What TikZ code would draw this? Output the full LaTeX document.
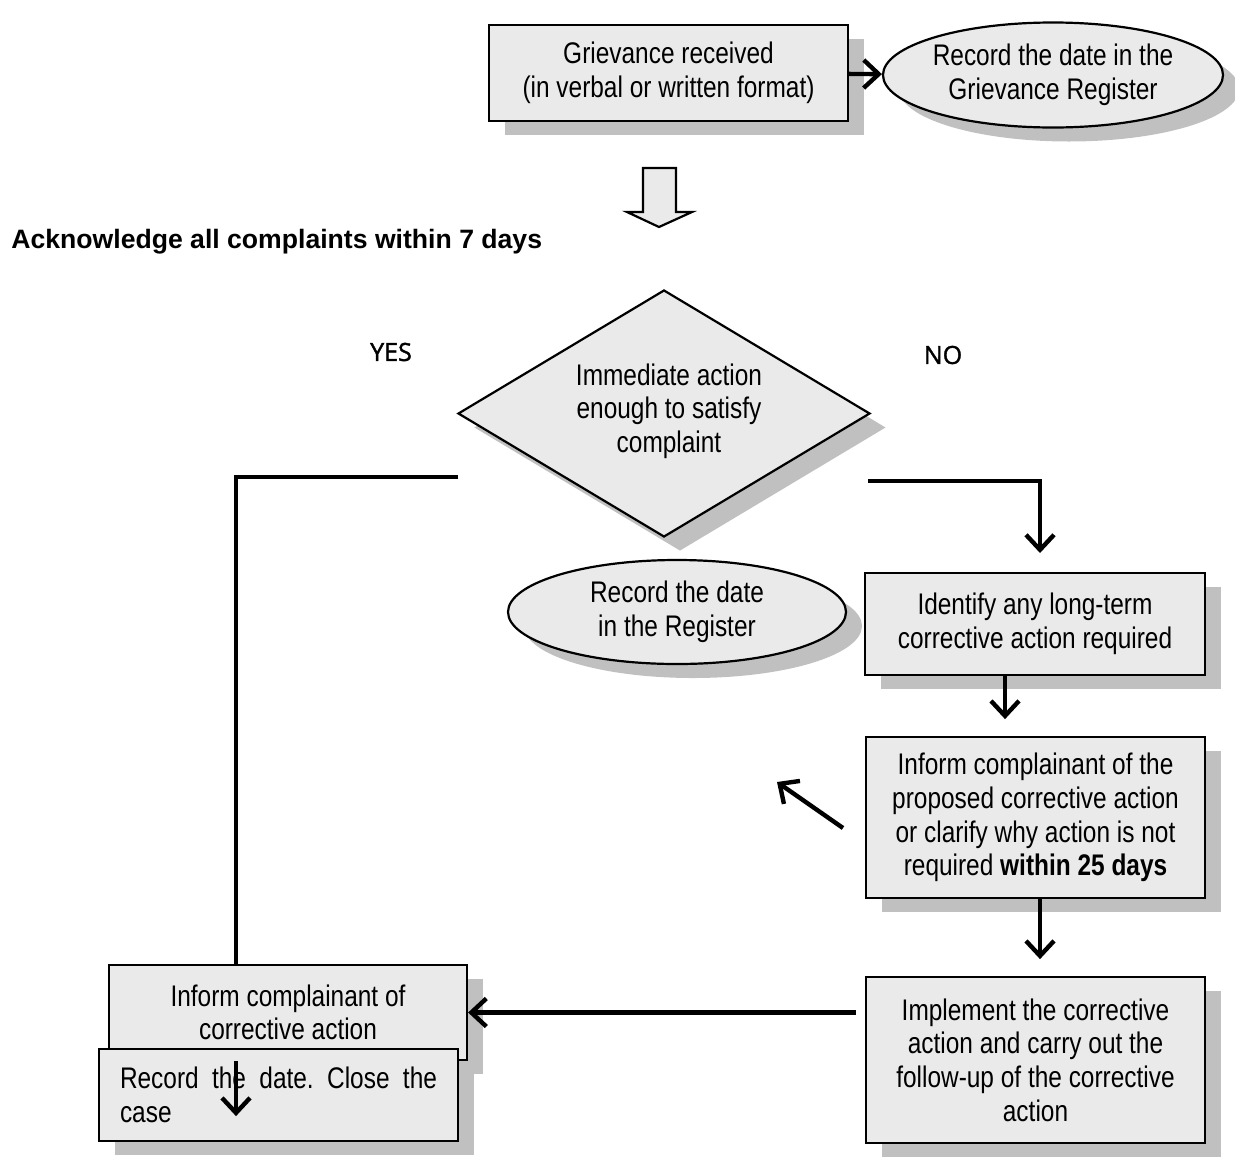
\documentclass[tikz,border=0pt]{standalone}
\usepackage{fontspec}
\setmainfont{Liberation Sans}[FakeStretch=0.82]
\newfontfamily\headfont{Liberation Sans}
\newfontfamily\yesfont{Open Sans}[FakeBold=1.5]
\usetikzlibrary{shapes.geometric,arrows.meta,shadows}
\definecolor{boxfill}{RGB}{234,234,234}
\definecolor{shadowgray}{RGB}{192,192,192}
\begin{document}
\frenchspacing
\begin{tikzpicture}[x=0.5pt,y=-0.5pt,
 shadowed/.style={drop shadow={shadow xshift=8pt,shadow yshift=-7pt,fill=shadowgray,opacity=1}},
 box/.style={draw,line width=1.1pt,fill=boxfill,shadowed,inner sep=0pt,align=center,font=\fontsize{14.9}{16.8}\selectfont},
 oval/.style={ellipse,box},
 conn/.style={line width=2.2pt,-{Straight Barb[length=7.5pt,width=14pt,line width=2.2pt]}},
 plain/.style={line width=2.2pt},
 lbl/.style={font=\yesfont\fontsize{12.5}{14}\selectfont}
]
\useasboundingbox (0,0) rectangle (1235,1157);

% top row
\node[box,minimum width=179.5pt,minimum height=48pt] (griev) at (668.5,73)
  {Grievance received\\(in verbal or written format)};
\node[oval,minimum width=169pt,minimum height=52.5pt] (reg1) at (1053,75)
  {Record the date in the\\Grievance Register};
\draw[conn] (griev) -- (reg1);

% block arrow
\draw[line width=1.1pt,fill=boxfill] (643,168) -- (676,168) -- (676,212) -- (692,212)
  -- (659,227) -- (627,212) -- (643,212) -- cycle;

% heading
\node[anchor=west,inner sep=0pt,font=\headfont\bfseries\fontsize{13.3}{16}\selectfont] (head) at (11,242)
  {Acknowledge all complaints within 7 days};

\node[lbl] (yes) at (391,352) {YES};
\node[lbl] (no) at (943,355) {NO};

% decision
\node[diamond,draw,line width=1.1pt,fill=boxfill,shadowed,minimum width=206pt,minimum height=123.5pt,inner sep=0pt] (dia) at (664,413.5) {};
\node[align=center,font=\fontsize{14.9}{16.8}\selectfont] (diatext) at (669,411)
  {Immediate action\\enough to satisfy\\complaint};

% register ellipse
\node[oval,minimum width=169pt,minimum height=52pt] (reg2) at (677,612)
  {Record the date\\in the Register};

% right column
\node[box,minimum width=170pt,minimum height=51pt] (ident) at (1035,624)
  {Identify any long-term\\corrective action required};
\node[box,minimum width=169.5pt,minimum height=80.5pt] (inform) at (1035.5,817.5)
  {Inform complainant of the\\proposed corrective action\\or clarify why action is not\\required \textbf{within 25 days}};
\node[box,minimum width=169.5pt,minimum height=83pt] (impl) at (1035.5,1060)
  {Implement the corrective\\action and carry out the\\follow-up of the corrective\\action};

% left bottom
\node[box,minimum width=179pt,minimum height=47.5pt] (inf2) at (288,1012.5)
  {Inform complainant of\\corrective action};
\node[box,minimum width=179.5pt,minimum height=46pt,text width=158.5pt,align=justify] (rec) at (278.5,1095)
  {Record the date. Close the case};

% connectors
\coordinate (yesstart) at (458,477);
\coordinate (ycorner) at (236,477);
\draw[plain] (yesstart) -- (ycorner) -- (ycorner |- inf2.north);

\coordinate (nostart) at (868,481);
\coordinate (ncorner) at (1040,481);
\coordinate (nend) at (1040,553);
\draw[conn] (nostart) -- (ncorner) -- (nend);

\draw[conn] ([xshift=-15pt]ident.south) -- ++(0,43);

\coordinate (diagS) at (843,828);
\coordinate (diagE) at (777,782);
\draw[conn] (diagS) -- (diagE);

\draw[conn] ([xshift=2.25pt]inform.south) -- ++(0,60);

\draw[conn] ([xshift=-4.5pt]impl.west |- inf2.east) -- (inf2.east);

\draw[conn] ([xshift=-26pt]inf2.south) -- ++(0,55);
\end{tikzpicture}
\end{document}
